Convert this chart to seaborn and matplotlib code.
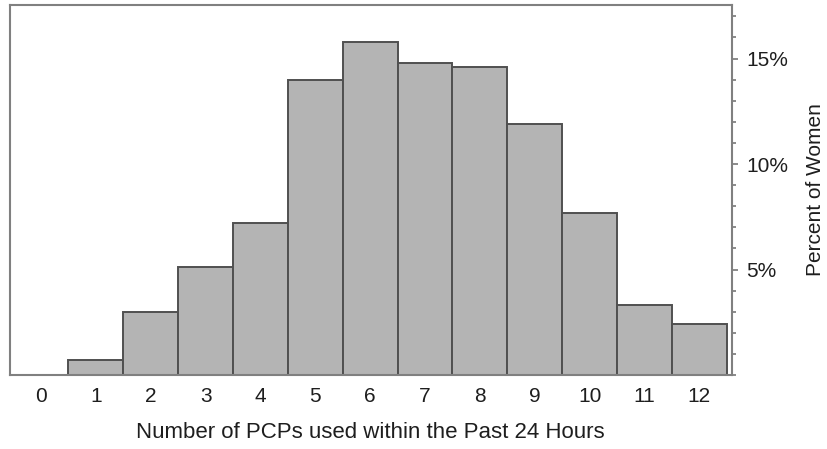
import matplotlib
matplotlib.use("Agg")
import matplotlib.pyplot as plt
import seaborn as sns
import pandas as pd
from matplotlib.ticker import MultipleLocator, FixedLocator, FuncFormatter

categories = ["0", "1", "2", "3", "4", "5", "6", "7", "8", "9", "10", "11", "12"]
percent_women = [0.0, 0.7, 3.0, 5.1, 7.2, 14.0, 15.8, 14.8, 14.6, 11.9, 7.7, 3.3, 2.4]
y_ticks = [5, 10, 15]
x_label = "Number of PCPs used within the Past 24 Hours"
y_label = "Percent of Women"

sns.set_style("white")
plt.rcParams["font.family"] = ["Liberation Sans", "DejaVu Sans"]

df = pd.DataFrame({"pcps": categories, "pct": percent_women})

fig = plt.figure(figsize=(8.27, 4.49), dpi=100)
ax = fig.add_axes([0.0115, 0.1648, 0.8733, 0.8241])

sns.barplot(data=df, x="pcps", y="pct", order=categories, color="#b4b4b4",
            saturation=1, width=1.0, edgecolor="#505050", linewidth=1.4, ax=ax)

ax.set_xlim(-0.574, 12.59)
ax.set_ylim(0, 17.54)

ax.yaxis.tick_right()
ax.yaxis.set_label_position("right")
ax.yaxis.set_major_locator(FixedLocator(y_ticks))
ax.yaxis.set_minor_locator(MultipleLocator(1))
ax.yaxis.set_major_formatter(FuncFormatter(lambda v, p: f"{v:.0f}%"))

text_color = "#1e1e1e"
ax.tick_params(axis="y", which="both", right=True, left=False, direction="out",
               length=4, width=1.2, color="#777777", pad=6.5,
               labelsize=15, labelcolor=text_color)
ax.tick_params(axis="y", which="minor", length=3)
ax.tick_params(axis="x", bottom=False, length=0, pad=8.5, labelsize=15,
               labelcolor=text_color)

for s in ax.spines.values():
    s.set_visible(True)
    s.set_color("#808080")
    s.set_linewidth(1.5)

ax.set_xlabel(x_label, fontsize=16, color=text_color, labelpad=11.5)
ax.set_ylabel(y_label, fontsize=15, color=text_color, labelpad=13)

fig.savefig("out.png", dpi=100)
